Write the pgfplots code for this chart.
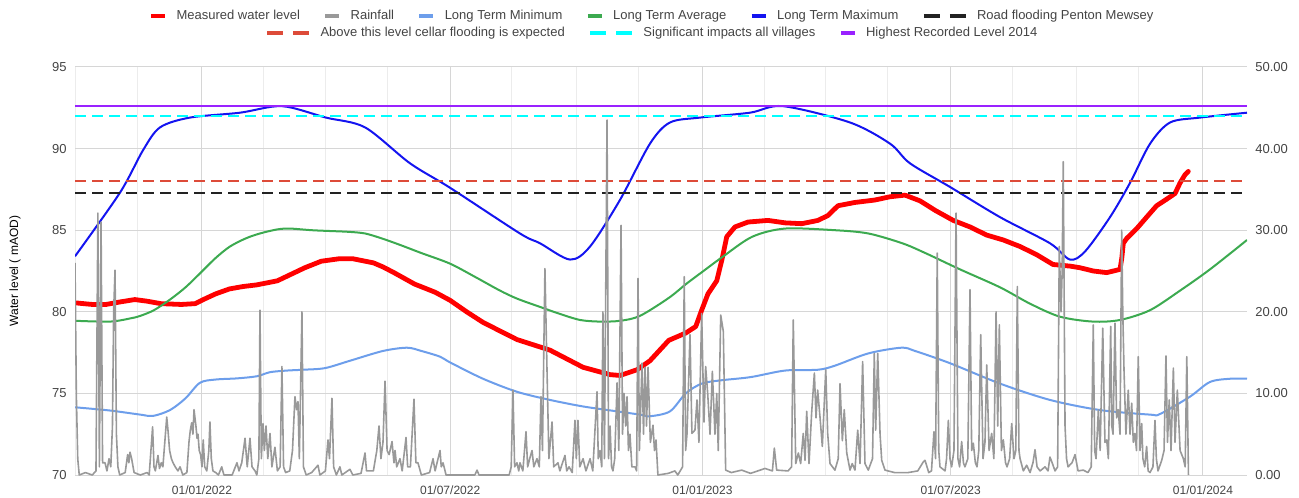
\documentclass[border=0pt]{standalone}
\usepackage{fontspec}
\setmainfont{Liberation Sans}
\usepackage{pgfplots}
\pgfplotsset{compat=1.18}
\definecolor{meas}{RGB}{255,0,0}
\definecolor{rain}{RGB}{153,153,153}
\definecolor{ltmin}{RGB}{109,158,235}
\definecolor{ltavg}{RGB}{60,170,80}
\definecolor{ltmax}{RGB}{20,20,240}
\definecolor{road}{RGB}{34,34,34}
\definecolor{cellar}{RGB}{221,75,57}
\definecolor{sig}{RGB}{0,255,255}
\definecolor{high}{RGB}{153,34,255}
\definecolor{gridc}{RGB}{214,214,214}
\definecolor{gridm}{RGB}{236,236,236}
\definecolor{txt}{RGB}{68,68,68}
\pgfplotsset{
  base/.style={scale only axis, width=879pt, height=306pt, at={(0,0)}, anchor=south west,
    xmin=-92.6, xmax=762.1, axis line style={draw=none}, major tick length=0pt, minor tick length=0pt,
    /pgf/number format/assume math mode=true},
  solidleg/.style={legend image code/.code={\draw[##1, line width=3pt] (0pt,0pt) -- (10.5pt,0pt);}},
  dashleg/.style={legend image code/.code={\draw[##1, line width=3pt, dash pattern=on 12pt off 7.5pt] (0pt,0pt) -- (31.5pt,0pt);}},
  legrow/.style={legend columns=-1,
    legend style={at={(axis description cs:0.4923,#1)}, anchor=center, draw=none, fill=none,
      font=\fontsize{9.75}{11}\selectfont, text=txt, inner sep=0pt, column sep=0pt,
      /tikz/every even column/.append style={column sep=16.5pt},
      /tikz/every odd column/.append style={column sep=6pt},
      nodes={inner sep=1pt}}},
}
\begin{document}
\begin{tikzpicture}
\useasboundingbox (-56.25pt,-16.5pt) rectangle (918pt,356.25pt);
% ---------- left axis: water levels ----------
\begin{axis}[base,
  ymin=70, ymax=95, ytick={70,75,80,85,90,95},
  xtick={0,181,365,546,730},
  xticklabels={01/01/2022,01/07/2022,01/01/2023,01/07/2023,01/01/2024},
  minor xtick={-92,-47,45,90,135,226,273,318,410,455,500,591,638,683},
  xmajorgrids, xminorgrids, ymajorgrids,
  major grid style={gridc, line width=0.75pt},
  minor grid style={gridm, line width=0.75pt},
  xticklabel style={font=\fontsize{9}{10}\selectfont, text=txt, yshift=-4.5pt},
  yticklabel style={font=\fontsize{9.75}{11}\selectfont, text=txt, xshift=-2.75pt},
  ylabel={Water level ( mAOD)},
  ylabel style={at={(axis description cs:-0.0512,0.5)}, anchor=center, font=\fontsize{9}{10}\selectfont, text=black},
]
% Measured water level
\addplot[meas, line width=3.6pt, line join=round, line cap=round] coordinates {
(-92.6,80.55) (-80,80.45) (-70,80.45) (-60,80.6) (-49,80.75) (-40,80.65) (-30,80.5) (-15,80.45)
(-5,80.5) (1,80.75) (10,81.1) (20,81.4) (30,81.55) (40,81.65) (55,81.9) (65,82.3) (75,82.7)
(87,83.1) (100,83.25) (110,83.25) (125,83.0) (132,82.75) (140,82.4) (155,81.7) (170,81.2)
(181,80.7) (193,80.0) (205,79.35) (229.7,78.3) (253.8,77.65) (277.9,76.6) (297.6,76.15)
(304.9,76.1) (317.3,76.45) (326.7,77.0) (340.4,78.25) (352.8,78.7) (360.1,79.1) (364.4,80.1)
(369.0,81.1) (375.4,81.9) (379.2,83.2) (382.7,84.6) (388.7,85.2) (398.2,85.5) (412.8,85.6)
(425.2,85.45) (437.4,85.4) (449.2,85.6) (456.5,85.9) (463.8,86.5) (476.2,86.7) (490.8,86.85)
(501.8,87.05) (512.7,87.15) (523.6,86.8) (535,86.2) (547.9,85.6) (560.1,85.2) (572.3,84.7)
(584.4,84.4) (596.6,84.0) (608.7,83.5) (620.6,82.9) (633.0,82.8) (640.3,82.7) (650.0,82.5)
(659.8,82.4) (669.5,82.6) (670.8,83.3) (671.9,84.2) (674.4,84.5) (681.7,85.1) (688.9,85.8)
(696.2,86.5) (703.5,86.9) (709.6,87.25) (713.3,87.9) (716.9,88.4) (719.3,88.6)
};
% Long Term Minimum
\addplot[ltmin, line width=1.5pt, smooth] coordinates {
(-92.6,74.15) (-67,73.95) (-45,73.7) (-35.7,73.62) (-23.3,73.98) (-12,74.7) (-1.5,75.65)
(10,75.85) (25.5,75.92) (40,76.05) (49.6,76.3) (62,76.4) (73.7,76.45) (89.7,76.55) (107.9,77.0)
(132,77.6) (149.5,77.8) (160,77.6) (173.6,77.25) (180.9,76.9) (204.9,75.9) (229.7,75.1)
(253.8,74.6) (277.9,74.2) (302.7,73.9) (319.4,73.7) (326.7,73.6) (341.3,73.9) (352.8,75.0)
(364.4,75.6) (378.3,75.8) (400.2,76.0) (425.2,76.4) (449.2,76.45) (461.6,76.7) (485.9,77.45)
(510,77.8) (520,77.6) (545.5,76.85) (582.0,75.6) (618.4,74.6) (654.9,73.98) (691.4,73.7)
(698.7,73.74) (720.5,74.8) (735.1,75.7) (750,75.9) (762.1,75.9)
};
% Long Term Average
\addplot[ltavg, line width=1.5pt, smooth] coordinates {
(-92.6,79.45) (-67,79.4) (-52,79.6) (-45,79.75) (-35,80.1) (-23.3,80.75) (-12,81.5) (-1.5,82.35)
(10,83.3) (20.4,84.0) (32,84.5) (42.3,84.8) (55,85.05) (64.2,85.1) (80,85.0) (93.3,84.95)
(107,84.9) (118.9,84.8) (131,84.5) (144.4,84.1) (160,83.6) (180.9,82.95) (200,82.1) (217.3,81.3)
(230,80.8) (246.5,80.3) (260,79.9) (275.7,79.5) (290.3,79.4) (305,79.45) (319.4,79.75)
(340.4,80.85) (353,81.7) (364.9,82.45) (380.2,83.4) (401.3,84.6) (425.2,85.1) (461.6,85.0)
(485.9,84.8) (510.7,84.2) (527.5,83.6) (552.8,82.6) (582.0,81.5) (603.8,80.5) (625.7,79.7)
(649.8,79.4) (669.5,79.5) (691.4,80.1) (713.3,81.3) (735.1,82.6) (762.1,84.4)
};
% Long Term Maximum
\addplot[ltmax, line width=1.5pt, smooth] coordinates {
(-92.6,83.4) (-59.8,87.3) (-43,89.9) (-30.6,91.3) (-8.8,91.9) (27.7,92.2) (58.3,92.6) (90.4,91.9)
(118.9,91.3) (151.7,89.1) (180.9,87.6) (231.9,84.8) (246.5,84.2) (268.4,83.2) (283,84.0)
(304.8,86.85) (326.7,90.3) (341.3,91.6) (363.2,91.9) (399.6,92.2) (423.7,92.6) (472.6,91.6)
(501.8,90.3) (516.3,89.1) (545.5,87.65) (582,85.8) (618.4,84.2) (633,83.2) (644,83.7)
(662.2,85.8) (676.8,87.9) (691.4,90.3) (706,91.6) (727.8,91.9) (762.1,92.2)
};
% Threshold lines
\addplot[road, line width=1.6pt, dash pattern=on 8.25pt off 4.5pt] coordinates {(-92.6,87.3) (762.1,87.3)};
\addplot[cellar, line width=1.6pt, dash pattern=on 8.25pt off 4.5pt] coordinates {(-92.6,88.0) (762.1,88.0)};
\addplot[sig, line width=1.6pt, dash pattern=on 8.25pt off 4.5pt] coordinates {(-92.6,92.0) (762.1,92.0)};
\addplot[high, line width=1.8pt] coordinates {(-92.6,92.62) (762.1,92.62)};
\end{axis}
% ---------- right axis: rainfall ----------
\begin{axis}[base,
  ymin=0, ymax=50, ytick={0,10,20,30,40,50},
  axis y line*=right, axis x line=none, xtick=\empty,
  yticklabel style={font=\fontsize{9.75}{11}\selectfont, text=txt, xshift=2.75pt,
    /pgf/number format/fixed, /pgf/number format/fixed zerofill, /pgf/number format/precision=2},
]
\addplot[rain, line width=1.2pt, line join=round] coordinates {
(-92.6,26.0) (-91.6,9.6) (-90.6,2) (-89.5,0) (-85,0.3) (-80,0) (-77.3,0.5) (-75.9,32.1) (-74.8,1)
(-73.6,31) (-72.5,1.5) (-70.7,1.5) (-69.3,0.5) (-67.8,2.0) (-66.5,1) (-65.3,5.9) (-64.4,20.2)
(-63.4,25.1) (-62.4,5) (-61.3,1) (-60,0) (-56,0.3) (-54.2,2.5) (-53.3,1.5) (-52.5,2.8) (-51.3,2)
(-49.5,0.3) (-45,0) (-40,0.3) (-38.5,0) (-36,5.9) (-35,1) (-34,0.5) (-32.1,2.4) (-31,0.8)
(-29.7,1.5) (-28.5,1) (-25.7,7.1) (-24.8,5.5) (-23.6,3) (-22.3,2) (-21.1,1.5) (-19.5,1)
(-17.5,0.5) (-16,1) (-14,0) (-11,0.3) (-9.5,4) (-8.5,5.5) (-7.5,6.4) (-6.6,5) (-5.8,8.0)
(-4.4,6) (-3.6,4.5) (-2.9,5) (-2,3) (-1,2.5) (0,1) (0.9,4.3) (2,1) (3.5,0.5) (5,3) (5.8,6.5)
(6.8,2) (8,0.5) (10,0.3) (12,0) (14.4,1) (16,0) (22,0) (25.5,1.5) (27,0.5) (29,1.5) (31.4,4.5)
(33,1) (35,4.5) (36.5,1) (38.7,0.5) (40,0) (41.5,2) (42.3,20.2) (43.3,2) (44.5,6.3) (45.5,3)
(46.7,6) (48,2) (49.6,5.1) (51,1) (53.2,3.4) (55,0.5) (57,1) (58.3,13.3) (59.5,1) (61,0.3)
(64,0.5) (66,3) (67.8,9.6) (69,8) (70,9.0) (71,2) (72.9,20.0) (74,1) (76,0) (80,0.3) (84.6,1.2)
(86,0) (90,0.5) (91.9,4.3) (93,2) (94.8,9.4) (96,1) (98,0) (100.6,1) (102,0) (107.9,0.7) (110,0)
(116,0.2) (118.9,2.7) (120,0.5) (125,0.5) (127.5,3) (129.1,6.0) (130.5,2) (132,4) (133.5,11.5)
(135,3) (136.5,2.5) (138.6,4.1) (140,1.5) (140.8,3) (142,1) (144.4,2) (146,0.5) (148.8,4.6)
(150,1) (152,1) (154.6,9.3) (156,1.5) (157.5,1.5) (160,0) (166,0.3) (168.5,2) (170,0.5)
(173.6,3) (174.5,1) (175.8,1.5) (178,0) (185,0) (195,0) (199,0) (200.6,0.6) (202,0) (224,0)
(225.5,1) (226.8,10.4) (228,1) (229.7,1.5) (231,0.5) (231.9,1.5) (234,0.5) (236.3,5.3) (237.5,1)
(239,2) (240.7,3) (242,1) (244.3,2) (246,1) (247.2,9.6) (248.3,3) (250.1,25.3) (251.6,13)
(253,2) (255.3,6.5) (256.5,1) (259.6,1.5) (261,0.5) (264.7,2.4) (266,0.5) (267.7,1) (270,0.3)
(272,6.7) (273,2) (274.2,6.7) (275.5,1) (277.9,2) (280,0.5) (283,2) (285,0.5) (288.1,10.2)
(289,2) (290.3,3) (291.5,1) (292.4,20) (293.5,2) (295.4,43.5) (296.5,2) (297.6,6) (298.7,1)
(299.7,0.5) (301,2) (302.7,11.3) (304,3) (305.6,30.6) (306.7,5) (307.8,10) (309,6) (310,9.6)
(311,3) (312.1,5) (313.5,1) (315.8,1) (317,0.5) (318,24.1) (319,3) (320.9,13.7) (322,5)
(323.1,13.2) (324.2,6) (325.3,13.2) (327,4) (328.9,6.1) (330,3) (331.1,4.3) (332.5,0) (340,0.2)
(344.9,0.5) (347,0) (350.5,1) (351.7,24.3) (352.7,3) (353.7,5) (355.9,17.2) (357.3,5.1)
(359.5,5.5) (361,9.2) (362.4,4) (364.4,19.8) (366.1,6.5) (367.3,13.3) (368.8,10) (370.5,5)
(372.2,12.7) (374.1,5) (375.4,10) (376.5,3) (378.3,19.6) (380.2,17.6) (381.9,0.6) (386,0.3)
(393.6,0.6) (400,0.2) (410.6,0.8) (416,0.5) (417.4,3.3) (419.1,0.6) (427.4,0.5) (430,1)
(431.2,19.0) (433,1.4) (434.9,2.7) (436.6,1.4) (438.5,5.1) (439.8,1.8) (441,7.8) (442.7,1.4)
(444.6,7.6) (446.6,12.5) (447.8,7) (449,10.4) (450.7,7.1) (452.4,3.5) (454.9,12.9) (456.3,5.1)
(458,1.4) (461.6,0.6) (464,2) (465.3,11.2) (467,4.2) (468.4,8) (470.2,2.7) (472.6,0.6)
(474.2,1.4) (476.2,0.6) (478.2,5.5) (479.9,1.4) (481.8,13.9) (483.5,1.4) (485.9,0.6) (489,2)
(490.3,14.9) (491.3,5.5) (492.8,14.9) (494.5,5) (495.7,1.8) (498.1,0.6) (505,0.3) (515,0.3)
(522,0.5) (526,1.6) (527.3,1.8) (530,0.3) (532,0.5) (533.8,5.3) (535,2) (536.2,27.2) (537.3,3)
(538.2,1) (541.9,0.5) (543,2) (544.3,6.7) (545.5,2) (546.7,1) (548.4,3) (549.9,32.1) (551.3,2)
(552.5,1) (554,4.1) (555.3,1.5) (556.4,1) (558.5,2) (560.1,22.7) (561.3,3) (562.5,3.9)
(564,1.5) (565.2,1) (566.5,3) (567.9,17.2) (569.6,2) (571,4) (572.3,13.5) (574,3) (575.9,5.1)
(577.5,2) (579.1,20.0) (580.3,6) (581.5,18.4) (583,3) (584.4,4.3) (586,1.5) (587.1,1) (589,2)
(590.5,6.3) (592.2,2) (593.5,3) (594.6,23.1) (595.8,3) (596.6,2) (599,0.5) (601.4,1.2)
(603.9,0.3) (606,1.5) (607.5,3.1) (609,1) (611.2,0.5) (614.8,1) (617,0.5) (618.4,2.2) (620,1.5)
(622.1,0.5) (624,1) (625.2,28.0) (626.5,20) (627.3,25) (628.1,38.4) (629.4,6) (630.5,2)
(631.6,1) (634.5,1.5) (636.7,2.5) (638.9,0.5) (642.7,0.6) (646.1,0.3) (648.5,1) (650.0,18.4)
(651,3) (652,2) (653.7,8) (655,3) (656.9,18.0) (658.5,4) (659.8,4.3) (661,2) (662.7,18.2)
(663.5,6) (664.4,5) (665.8,18.6) (667,7) (668.2,8) (669.5,5) (670.7,30.0) (671.5,20) (672.4,12.9)
(673.8,5) (675.5,10.4) (676.8,5) (678.0,8.8) (679.2,4) (680.4,5.1) (681.5,3) (682.8,14.5)
(684.1,3) (685.3,6.3) (686.2,2) (687.5,1) (688.9,3.5) (690,0.5) (691.4,0.3) (693.5,1) (695.0,6.7)
(696,2) (697.2,0.5) (699.9,1.8) (701.6,3) (703.0,14.6) (704.1,4) (705.4,9.2) (706.7,3)
(708.4,13.1) (709.6,4) (711.3,10.4) (713.3,3) (715.7,2) (717.0,1) (718.2,14.5) (719.4,0)
};
\end{axis}
% ---------- legend row 1 ----------
\begin{axis}[base, hide axis, ymin=0, ymax=1, legrow=1.125]
\addlegendimage{meas, solidleg}
\addlegendentry{Measured water level}
\addlegendimage{rain, solidleg}
\addlegendentry{Rainfall}
\addlegendimage{ltmin, solidleg}
\addlegendentry{Long Term Minimum}
\addlegendimage{ltavg, solidleg}
\addlegendentry{Long Term Average}
\addlegendimage{ltmax, solidleg}
\addlegendentry{Long Term Maximum}
\addlegendimage{road, dashleg}
\addlegendentry{Road flooding Penton Mewsey}
\end{axis}
% ---------- legend row 2 ----------
\begin{axis}[base, hide axis, ymin=0, ymax=1, legrow=1.0833]
\addlegendimage{cellar, dashleg}
\addlegendentry{Above this level cellar flooding is expected}
\addlegendimage{sig, dashleg}
\addlegendentry{Significant impacts all villages}
\addlegendimage{high, solidleg}
\addlegendentry{Highest Recorded Level 2014}
\end{axis}
\end{tikzpicture}
\end{document}
